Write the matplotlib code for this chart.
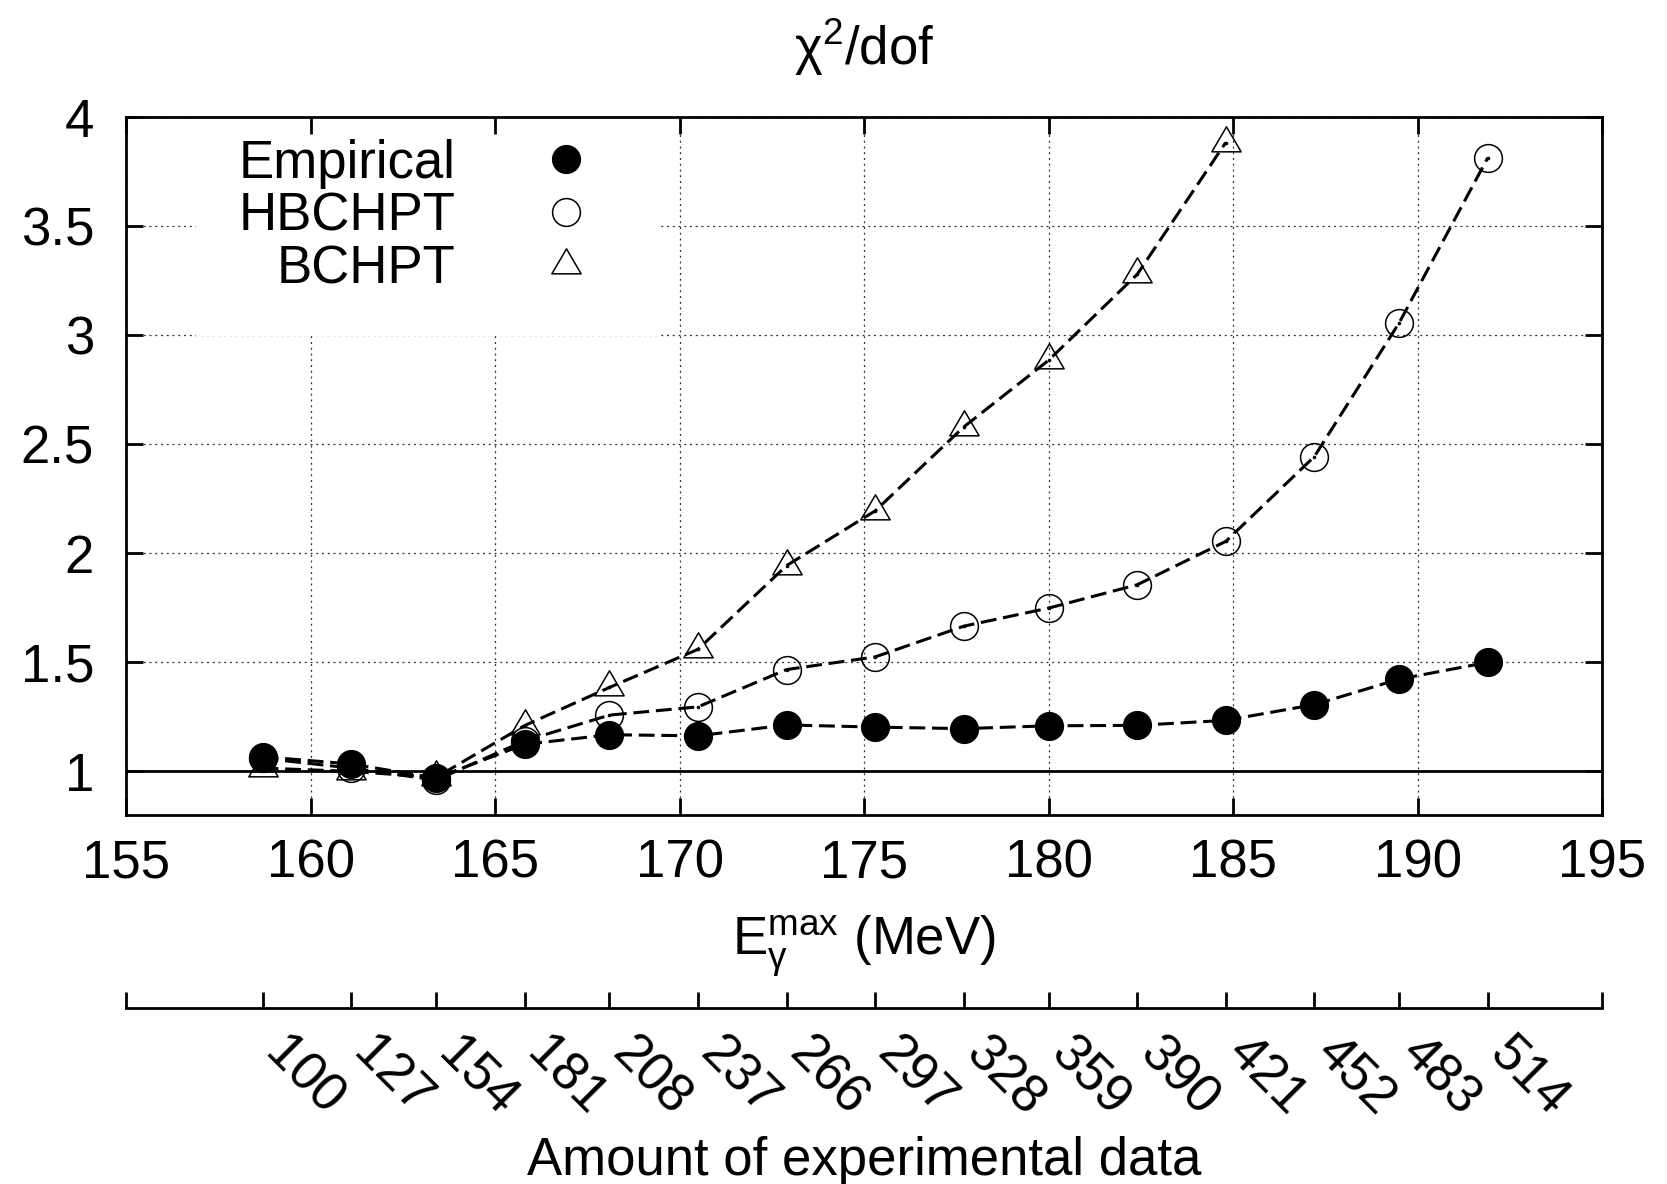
import matplotlib
matplotlib.use('Agg')
import matplotlib.pyplot as plt
from matplotlib.path import Path
from matplotlib.lines import Line2D

plt.rcParams['font.family'] = ['Liberation Sans', 'DejaVu Sans']
plt.rcParams['mathtext.default'] = 'regular'

# photon energy cut (MeV) and amount of data for each cut
e_max = [158.7, 161.1, 163.4, 165.8, 168.1, 170.5, 172.9, 175.3, 177.7,
         180.0, 182.4, 184.8, 187.2, 189.5, 191.9]
n_data = [100, 127, 154, 181, 208, 237, 266, 297, 328, 359, 390, 421, 452, 483, 514]

# chi2/dof per fit
empirical = [1.067, 1.034, 0.969, 1.124, 1.168, 1.163, 1.213, 1.203, 1.196,
             1.209, 1.211, 1.234, 1.306, 1.423, 1.500]
hbchpt = [1.06, 1.015, 0.96, 1.14, 1.258, 1.296, 1.467, 1.525, 1.666,
          1.749, 1.856, 2.055, 2.444, 3.058, 3.815]
bchpt = [1.015, 1.0, 0.972, 1.21, 1.385, 1.56, 1.944, 2.195, 2.58,
         2.886, 3.28, 3.885]

x_ticks = [155, 160, 165, 170, 175, 180, 185, 190, 195]
y_ticks = [1, 1.5, 2, 2.5, 3, 3.5, 4]
ref_level = 1.0

FS = 38
dash = (0, (5.2, 2.2))
tri = Path([(0, 1), (-0.878, -0.5), (0.878, -0.5), (0, 1)],
           [Path.MOVETO, Path.LINETO, Path.LINETO, Path.CLOSEPOLY])

fig = plt.figure(figsize=(16.67, 11.84), dpi=100)
rect = [0.0756, 0.3117, 0.8855, 0.5891]

# fundo com a grade e a legenda (a legenda tapa a grade, mas nao os ticks)
axg = fig.add_axes(rect)
axg.set_xlim(155, 195)
axg.set_ylim(0.8, 4)
axg.set_xticks(x_ticks)
axg.set_yticks(y_ticks)
axg.grid(True, color='0.2', lw=0.9, linestyle=(0, (1.6, 3.0)))
axg.tick_params(length=0, labelbottom=False, labelleft=False)
for s in axg.spines.values():
    s.set_visible(False)

handles = [
    Line2D([], [], ls='none', marker='o', ms=20, mfc='black', mec='black'),
    Line2D([], [], ls='none', marker='o', ms=20, mfc='none', mec='black', mew=1.1),
    Line2D([], [], ls='none', marker=tri, ms=24, mfc='none', mec='black', mew=1.1),
]
leg = axg.legend(handles, ['Empirical', 'HBCHPT', 'BCHPT'], loc='upper right',
                 bbox_to_anchor=(0.3625, 1.03), markerfirst=False, fontsize=FS,
                 frameon=True, fancybox=False, framealpha=1, edgecolor='none',
                 facecolor='white', handlelength=2.0, handletextpad=1.1,
                 labelspacing=0.05, borderpad=0.8, borderaxespad=0)

# eixo principal com os dados
ax = fig.add_axes(rect, sharex=axg, sharey=axg)
ax.set_facecolor('none')
ax.axhline(ref_level, color='black', lw=2, zorder=1.5)

ax.plot(e_max[:len(bchpt)], bchpt, color='black', lw=2.2, linestyle=dash,
        marker=tri, ms=24, mfc='none', mec='black', mew=1.1)
ax.plot(e_max, hbchpt, color='black', lw=2.2, linestyle=dash,
        marker='o', ms=20, mfc='none', mec='black', mew=1.1)
ax.plot(e_max, empirical, color='black', lw=2.2, linestyle=dash,
        marker='o', ms=20, mfc='black', mec='black')
# pontinho no centro dos simbolos abertos
ax.plot(e_max[:len(bchpt)], bchpt, ls='none', marker='o', ms=1.6, color='black')
ax.plot(e_max, hbchpt, ls='none', marker='o', ms=1.6, color='black')

ax.tick_params(axis='both', direction='in', length=12, width=2,
               top=True, right=True, labelsize=FS)
ax.tick_params(axis='x', pad=17)
ax.tick_params(axis='y', pad=23)
ax.set_xticklabels([str(t) for t in x_ticks])
ax.set_yticklabels(['1', '1.5', '2', '2.5', '3', '3.5', '4'])
for s in ax.spines.values():
    s.set_linewidth(2)

ax.set_title(r'$\chi^2$/dof', fontsize=FS, pad=38)
ax.set_xlabel(r'E$_{\gamma}^{max}$ (MeV)', fontsize=FS, labelpad=18)

# segundo eixo: quantidade de dados
ax2 = ax.secondary_xaxis(-0.2767)
ax2.set_xticks(e_max, labels=[str(n) for n in n_data], rotation=-45,
               ha='left', va='baseline', rotation_mode='anchor')
ax2.set_xticks([155, 195], minor=True)
ax2.tick_params(which='both', direction='in', length=11.5, width=2,
                labelsize=FS, pad=34)
ax2.spines['bottom'].set_linewidth(2)
ax2.set_xlabel('Amount of experimental data', fontsize=FS, labelpad=8)

fig.savefig('out.png', dpi=100)
